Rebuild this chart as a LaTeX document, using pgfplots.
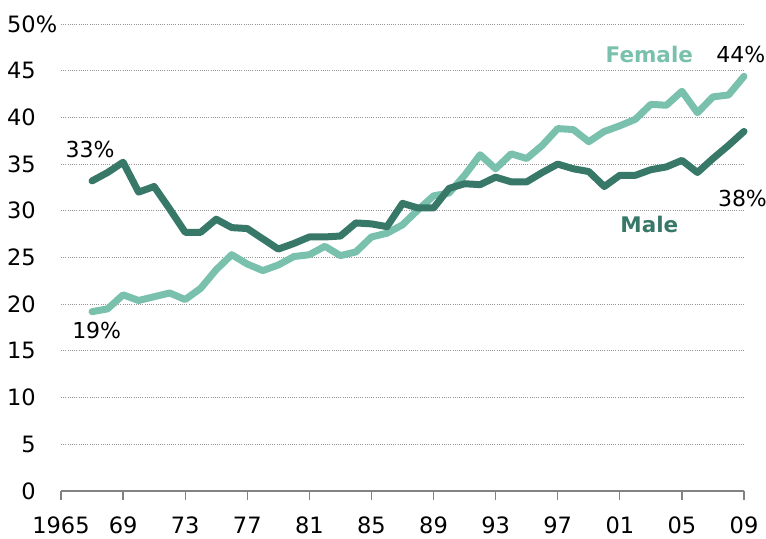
\documentclass[border=0pt]{standalone}
\usepackage{fontspec}
\setmainfont{DejaVu Sans}
\usepackage{pgfplots}
\pgfplotsset{compat=1.18}
\definecolor{male}{RGB}{56,120,104}
\definecolor{female}{RGB}{122,193,173}
\definecolor{gridc}{RGB}{150,150,150}
\definecolor{axisc}{RGB}{130,130,130}
\begin{document}
\begin{tikzpicture}
\begin{axis}[name=ax,
  scale only axis, width=683pt, height=467pt,
  xmin=1965, xmax=2009, ymin=0, ymax=50,
  enlargelimits=false, clip=false,
  axis x line*=bottom, axis y line*=left,
  y axis line style={draw=none},
  x axis line style={axisc, line width=1.6pt, -},
  xtick={1965,1969,...,2009},
  xticklabels={1965,69,73,77,81,85,89,93,97,01,05,09},
  ytick={0,5,...,50},
  yticklabels={0,5,10,15,20,25,30,35,40,45,50\rlap{\%}},
  tick align=outside, major tick length=9pt,
  xtick style={axisc, line width=1.2pt},
  ytick style={draw=none},
  ymajorgrids, grid style={gridc, line width=0.9pt, dash pattern=on 1pt off 1.2pt},
  tick label style={font=\fontsize{22.5}{27}\selectfont},
  /pgf/number format/assume math mode=true,
  yticklabel style={anchor=east, inner sep=0pt, xshift=-16pt},
  xticklabel style={anchor=north, inner sep=0pt, yshift=-17pt},
]
\addplot[female, line width=7pt, line cap=round, line join=round] coordinates {
(1967,19.2)(1968,19.5)(1969,21.0)(1970,20.4)(1971,20.8)(1972,21.2)(1973,20.5)
(1974,21.7)(1975,23.7)(1976,25.3)(1977,24.3)(1978,23.6)(1979,24.2)(1980,25.1)
(1981,25.3)(1982,26.2)(1983,25.2)(1984,25.6)(1985,27.2)(1986,27.6)(1987,28.5)
(1988,30.1)(1989,31.6)(1990,31.9)(1991,33.8)(1992,36.0)(1993,34.5)(1994,36.1)
(1995,35.6)(1996,37.0)(1997,38.8)(1998,38.7)(1999,37.4)(2000,38.5)(2001,39.1)
(2002,39.8)(2003,41.4)(2004,41.3)(2005,42.8)(2006,40.5)(2007,42.2)(2008,42.4)
(2009,44.4)};
\addplot[male, line width=7pt, line cap=round, line join=round] coordinates {
(1967,33.2)(1968,34.1)(1969,35.2)(1970,32.0)(1971,32.6)(1972,30.2)(1973,27.7)
(1974,27.7)(1975,29.1)(1976,28.2)(1977,28.1)(1978,27.0)(1979,25.9)(1980,26.5)
(1981,27.2)(1982,27.2)(1983,27.3)(1984,28.7)(1985,28.6)(1986,28.3)(1987,30.8)
(1988,30.3)(1989,30.3)(1990,32.4)(1991,32.9)(1992,32.8)(1993,33.6)(1994,33.1)
(1995,33.1)(1996,34.1)(1997,35.0)(1998,34.5)(1999,34.2)(2000,32.6)(2001,33.8)
(2002,33.8)(2003,34.4)(2004,34.7)(2005,35.4)(2006,34.1)(2007,35.6)(2008,37.0)
(2009,38.5)};
\node[font=\fontsize{22}{26}\selectfont, inner sep=0pt] at (axis cs:1966.87,36.6) {33\%};
\node[font=\fontsize{22}{26}\selectfont, inner sep=0pt] at (axis cs:1967.3,17.2) {19\%};
\node[font=\fontsize{22}{26}\selectfont, inner sep=0pt] at (axis cs:2008.8,46.7) {44\%};
\node[font=\fontsize{22}{26}\selectfont, inner sep=0pt] at (axis cs:2008.9,31.3) {38\%};
\node[font=\fontsize{21.5}{26}\selectfont\bfseries, text=female, inner sep=0pt] at (axis cs:2002.9,46.7) {Female};
\node[font=\fontsize{21.5}{26}\selectfont\bfseries, text=male, inner sep=0pt] at (axis cs:2002.9,28.5) {Male};
\end{axis}
\pgfresetboundingbox
\path[use as bounding box] ([xshift=-61pt,yshift=-47pt]ax.south west) rectangle ([xshift=22pt,yshift=24pt]ax.north east);
\end{tikzpicture}
\end{document}
